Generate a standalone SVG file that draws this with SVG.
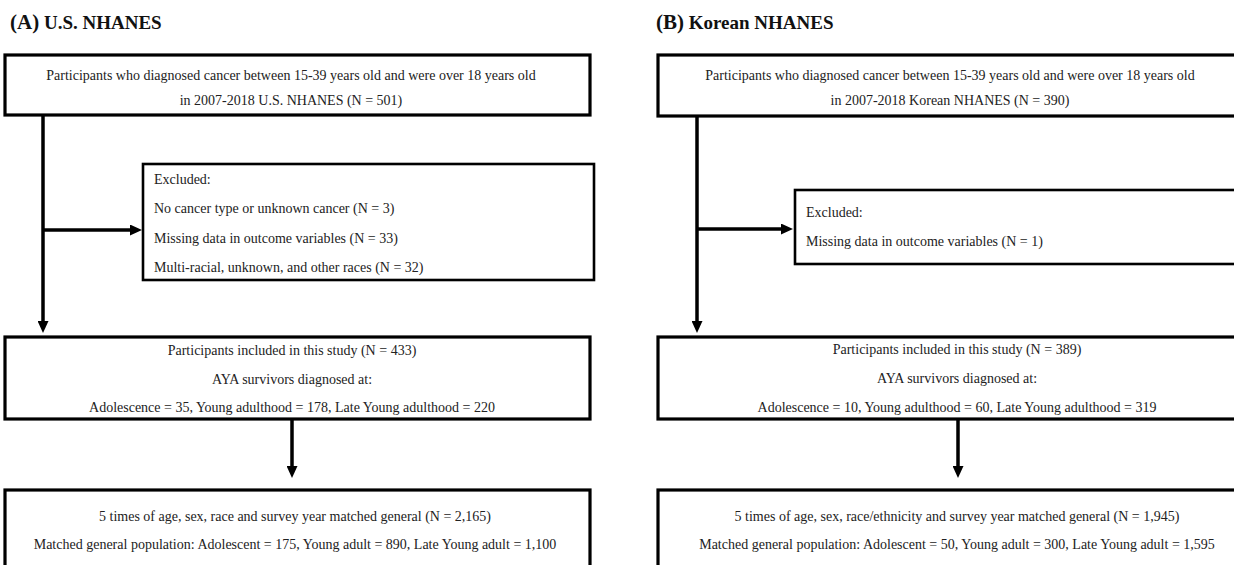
<svg xmlns="http://www.w3.org/2000/svg" width="1234" height="565" viewBox="0 0 1234 565">
<style>
.box{fill:#fff;stroke:#000;stroke-width:3.2}
.ex{fill:#fff;stroke:#000;stroke-width:2.6}
.t{font-family:"Liberation Serif","Times New Roman",serif;font-size:14px;fill:#222}
.c{text-anchor:middle}
.title{font-family:"Liberation Serif","Times New Roman",serif;font-weight:bold;fill:#111}
.big{font-size:21px}
.sm{font-size:19px}
.conn{stroke:#000;stroke-width:3.5;fill:none}
</style>
<defs>
<marker id="ah" markerUnits="userSpaceOnUse" markerWidth="12" markerHeight="11" refX="4" refY="5.5" orient="auto">
<path d="M0,0 L12,5.5 L0,11 z" fill="#000"/>
</marker>
</defs>
<rect width="1234" height="565" fill="#fff"/>
<g id="titleA"><text class="title" x="10" y="29"><tspan class="big">(A)</tspan><tspan class="sm"> U.S. NHANES</tspan></text></g>
<g id="titleB"><text class="title" x="656" y="29"><tspan class="big">(B)</tspan><tspan class="sm"> Korean NHANES</tspan></text></g>
<g id="connectors">
<path class="conn" d="M43,115 V325" marker-end="url(#ah)"/>
<path class="conn" d="M43,230 H134" marker-end="url(#ah)"/>
<path class="conn" d="M292,419 V470" marker-end="url(#ah)"/>
<path class="conn" d="M697,116 V325" marker-end="url(#ah)"/>
<path class="conn" d="M697,229 H785" marker-end="url(#ah)"/>
<path class="conn" d="M958,419 V470" marker-end="url(#ah)"/>
</g>
<g id="A1"><rect class="box" x="5" y="55" width="585" height="60"/>
<text class="t c" x="291" y="80">Participants who diagnosed cancer between 15-39 years old and were over 18 years old</text>
<text class="t c" x="291" y="105">in 2007-2018 U.S. NHANES (N = 501)</text></g>
<g id="A2"><rect class="ex" x="143" y="164" width="451" height="116"/>
<text class="t" x="154" y="184">Excluded:</text>
<text class="t" x="154" y="213">No cancer type or unknown cancer (N = 3)</text>
<text class="t" x="154" y="243">Missing data in outcome variables (N = 33)</text>
<text class="t" x="154" y="272">Multi-racial, unknown, and other races (N = 32)</text></g>
<g id="A3"><rect class="box" x="5" y="337" width="585" height="82"/>
<text class="t c" x="292" y="355">Participants included in this study (N = 433)</text>
<text class="t c" x="292" y="384">AYA survivors diagnosed at:</text>
<text class="t c" x="292" y="412">Adolescence = 35, Young adulthood = 178, Late Young adulthood = 220</text></g>
<g id="A4"><rect class="box" x="5" y="490" width="585" height="85"/>
<text class="t c" x="295" y="521">5 times of age, sex, race and survey year matched general (N = 2,165)</text>
<text class="t c" x="295" y="549">Matched general population: Adolescent = 175, Young adult = 890, Late Young adult = 1,100</text></g>
<g id="B1"><rect class="box" x="658" y="55" width="600" height="61"/>
<text class="t c" x="950" y="80">Participants who diagnosed cancer between 15-39 years old and were over 18 years old</text>
<text class="t c" x="950" y="105">in 2007-2018 Korean NHANES (N = 390)</text></g>
<g id="B2"><rect class="ex" x="795" y="190" width="470" height="74"/>
<text class="t" x="806" y="217">Excluded:</text>
<text class="t" x="806" y="246">Missing data in outcome variables (N = 1)</text></g>
<g id="B3"><rect class="box" x="658" y="337" width="600" height="82"/>
<text class="t c" x="957" y="354">Participants included in this study (N = 389)</text>
<text class="t c" x="957" y="383">AYA survivors diagnosed at:</text>
<text class="t c" x="957" y="412">Adolescence = 10, Young adulthood = 60, Late Young adulthood = 319</text></g>
<g id="B4"><rect class="box" x="658" y="490" width="600" height="85"/>
<text class="t c" x="957" y="521">5 times of age, sex, race/ethnicity and survey year matched general (N = 1,945)</text>
<text class="t c" x="957" y="549">Matched general population: Adolescent = 50, Young adult = 300, Late Young adult = 1,595</text></g>
</svg>
